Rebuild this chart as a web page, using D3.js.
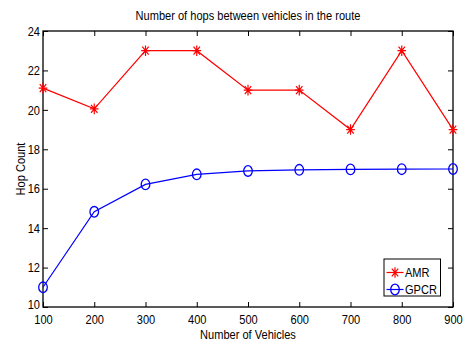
<!DOCTYPE html>
<html>
<head>
<meta charset="utf-8">
<script src="https://cdn.jsdelivr.net/npm/d3@7"></script>
<style>
  html, body { margin: 0; padding: 0; background: #fff; }
  svg text { font-family: "Liberation Sans", Arial, Helvetica, sans-serif; fill: #000; }
</style>
</head>
<body>
<svg id="chart" width="469" height="345"></svg>
<script>
// Number of vehicles on the x axis
const vehicles = [100, 200, 300, 400, 500, 600, 700, 800, 900];
// Hop counts per routing protocol
const amrHops  = [21.1, 20.05, 23.0, 23.0, 21.0, 21.0, 19.0, 23.0, 19.0];
const gpcrHops = [11.0, 14.83, 16.22, 16.73, 16.9, 16.96, 16.98, 16.99, 17.0];
// Tick values
const xTicks = [100, 200, 300, 400, 500, 600, 700, 800, 900];
const yTicks = [10, 12, 14, 16, 18, 20, 22, 24];

const titleText = "Number of hops between vehicles in the route";
const xLabel = "Number of Vehicles";
const yLabel = "Hop Count";

const svg = d3.select("#chart");
const plotLeft = 43, plotRight = 453, plotTop = 31, plotBottom = 307;

const x = d3.scaleLinear().domain([100, 900]).range([plotLeft, plotRight]);
const y = d3.scaleLinear().domain([10, 24]).range([plotBottom, plotTop]);

const fs = 13;

// Title
svg.append("text")
  .attr("x", (plotLeft + plotRight) / 2).attr("y", 20)
  .attr("text-anchor", "middle")
  .style("font-size", fs + "px")
  .text(titleText);

// Axes with inward ticks on all four sides (MATLAB box style)
const tickLen = 5;
svg.append("g").attr("transform", `translate(0,${plotBottom})`)
  .call(d3.axisBottom(x).tickValues(xTicks).tickSize(-tickLen).tickPadding(7.3).tickFormat(d3.format("d")))
  .call(g => g.select(".domain").remove())
  .call(g => g.selectAll("text").style("font-size", fs + "px").attr("dy", "0.71em"));

svg.append("g").attr("transform", `translate(0,${plotTop})`)
  .call(d3.axisTop(x).tickValues(xTicks).tickSize(-tickLen).tickFormat(""))
  .call(g => g.select(".domain").remove());

svg.append("g").attr("transform", `translate(${plotLeft},0)`)
  .call(d3.axisLeft(y).tickValues(yTicks).tickSize(-tickLen).tickPadding(3).tickFormat(d3.format("d")))
  .call(g => g.select(".domain").remove())
  .call(g => g.selectAll("text").style("font-size", fs + "px"))
  // lowest label sits a little higher, clear of the x tick labels
  .call(g => g.selectAll(".tick").filter(d => d === 10).select("text").attr("y", -2.6));

svg.append("g").attr("transform", `translate(${plotRight},0)`)
  .call(d3.axisRight(y).tickValues(yTicks).tickSize(-tickLen).tickFormat(""))
  .call(g => g.select(".domain").remove());

svg.selectAll(".tick line").attr("stroke", "#000").attr("stroke-width", 1);

// Plot frame
svg.append("rect")
  .attr("x", plotLeft).attr("y", plotTop)
  .attr("width", plotRight - plotLeft).attr("height", plotBottom - plotTop)
  .attr("fill", "none").attr("stroke", "#000").attr("stroke-width", 1.3);

// Axis labels
svg.append("text")
  .attr("x", (plotLeft + plotRight) / 2).attr("y", 338.5)
  .attr("text-anchor", "middle")
  .style("font-size", fs + "px")
  .text(xLabel);

svg.append("text")
  .attr("transform", `translate(25,${(plotTop + plotBottom) / 2}) rotate(-90)`)
  .attr("text-anchor", "middle")
  .style("font-size", fs + "px")
  .text(yLabel);

// Marker shapes
function asterisk(g, cx, cy, color) {
  const a = 4.3, b = 5.3;
  const p = d3.path();
  p.moveTo(cx - a, cy); p.lineTo(cx + a, cy);
  p.moveTo(cx, cy - b); p.lineTo(cx, cy + b);
  p.moveTo(cx - a * 0.75, cy - b * 0.75); p.lineTo(cx + a * 0.75, cy + b * 0.75);
  p.moveTo(cx - a * 0.75, cy + b * 0.75); p.lineTo(cx + a * 0.75, cy - b * 0.75);
  g.append("path").attr("d", p.toString()).attr("stroke", color).attr("stroke-width", 1.2).attr("fill", "none");
}
function ring(g, cx, cy, color) {
  g.append("ellipse").attr("cx", cx).attr("cy", cy).attr("rx", 4.3).attr("ry", 5.3)
    .attr("fill", "none").attr("stroke", color).attr("stroke-width", 1.3);
}

const line = d3.line().x(d => x(d[0])).y(d => y(d[1]));
const series = [
  { name: "AMR", values: amrHops, color: "#ff0000", marker: asterisk },
  { name: "GPCR", values: gpcrHops, color: "#0000ff", marker: ring }
];

const plot = svg.append("g");
series.forEach(s => {
  const pts = vehicles.map((v, i) => [v, s.values[i]]);
  plot.append("path").datum(pts).attr("d", line)
    .attr("fill", "none").attr("stroke", s.color).attr("stroke-width", 1.2);
  const mg = plot.append("g");
  pts.forEach(p => s.marker(mg, x(p[0]), y(p[1]), s.color));
});

// Legend
const lg = svg.append("g");
lg.append("rect").attr("x", 384).attr("y", 259).attr("width", 56.5).attr("height", 37)
  .attr("fill", "#fff").attr("stroke", "#000").attr("stroke-width", 1);
series.forEach((s, i) => {
  const cy = 272.5 + i * 17;
  lg.append("line").attr("x1", 386.5).attr("x2", 403.5).attr("y1", cy).attr("y2", cy)
    .attr("stroke", s.color).attr("stroke-width", 1.2);
  s.marker(lg, 395, cy, s.color);
  lg.append("text").attr("x", 405).attr("y", cy).attr("dy", "0.35em")
    .style("font-size", fs + "px").text(s.name);
});

// Condensed lettering: squeeze every label horizontally
const squeeze = 0.85;
svg.selectAll("text").each(function () {
  const w = this.getComputedTextLength();
  if (w > 0) {
    d3.select(this).attr("textLength", (w * squeeze).toFixed(2)).attr("lengthAdjust", "spacingAndGlyphs");
  }
});
</script>
</body>
</html>
